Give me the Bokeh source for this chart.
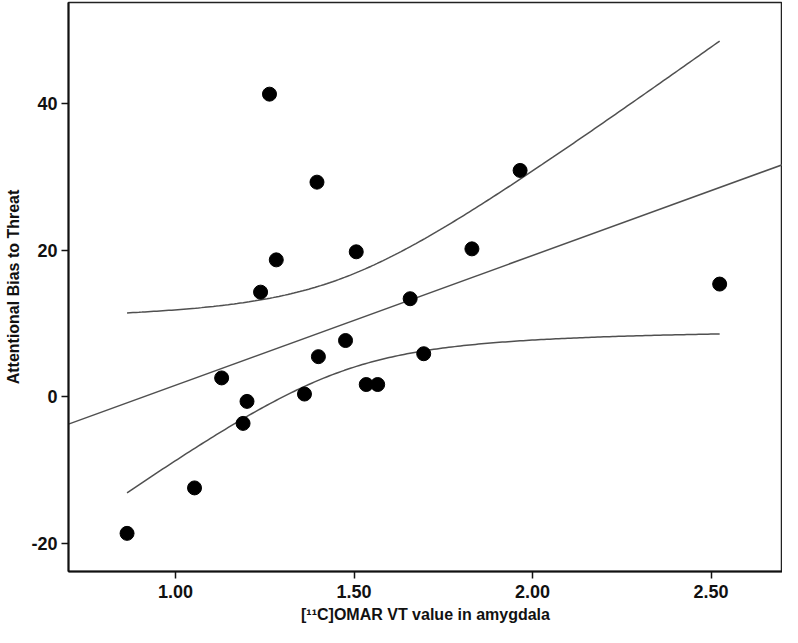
import numpy as np
from bokeh.plotting import figure
from bokeh.models import Range1d, FixedTicker, NumeralTickFormatter
from bokeh.embed import file_html
from bokeh.resources import INLINE

# Data
omar_vt = [0.864, 1.053, 1.129, 1.189, 1.200, 1.238, 1.263, 1.282, 1.361, 1.396,
           1.400, 1.476, 1.506, 1.534, 1.566, 1.657, 1.695, 1.830, 1.965, 2.524]
bias = [-18.6, -12.4, 2.6, -3.6, -0.6, 14.3, 41.3, 18.7, 0.4, 29.3,
        5.5, 7.7, 19.8, 1.7, 1.7, 13.4, 5.9, 20.2, 30.9, 15.4]
x_ticks = [1.0, 1.5, 2.0, 2.5]
y_ticks = [-20, 0, 20, 40]

x = np.array(omar_vt)
y = np.array(bias)
n = len(x)
slope, intercept = np.polyfit(x, y, 1)
resid = y - (slope * x + intercept)
s = np.sqrt(np.sum(resid ** 2) / (n - 2))
sxx = np.sum((x - x.mean()) ** 2)
t_crit = 2.101  # t(0.975, df=18)

x_lo, x_hi = 0.70, 2.70

p = figure(width=782, height=627, output_backend="svg", toolbar_location=None,
           x_range=Range1d(x_lo, x_hi), y_range=Range1d(-23.8, 53.8),
           min_border_left=68, min_border_right=0, min_border_top=2, min_border_bottom=56)

# fit line across the frame
fx = np.array([x_lo, x_hi])
p.line(fx, slope * fx + intercept, line_color="#505050", line_width=1.5)

# 95% CI of the mean over the data range
cx = np.linspace(x.min(), x.max(), 200)
half = t_crit * s * np.sqrt(1.0 / n + (cx - x.mean()) ** 2 / sxx)
cy = slope * cx + intercept
p.line(cx, cy + half, line_color="#505050", line_width=1.5)
p.line(cx, cy - half, line_color="#505050", line_width=1.5)

p.scatter(omar_vt, bias, size=14, fill_color="black", line_color="black")

p.xgrid.visible = False
p.ygrid.visible = False
p.outline_line_color = "#222222"
p.outline_line_width = 1.5
p.background_fill_color = "white"
p.border_fill_color = "white"

for ax in (p.xaxis[0], p.yaxis[0]):
    ax.axis_line_color = "#111111"
    ax.axis_line_width = 2
    ax.major_tick_line_color = "#111111"
    ax.major_tick_line_width = 1.5
    ax.major_tick_out = 7
    ax.major_tick_in = 0
    ax.minor_tick_line_color = None
    ax.major_label_text_font = "Liberation Sans"
    ax.major_label_text_font_style = "bold"
    ax.major_label_text_font_size = "18px"
    ax.major_label_text_color = "#111111"
    ax.axis_label_text_font = "Liberation Sans"
    ax.axis_label_text_font_style = "bold"
    ax.axis_label_text_font_size = "16px"
    ax.axis_label_text_color = "#111111"

p.xaxis[0].ticker = FixedTicker(ticks=x_ticks)
p.xaxis[0].formatter = NumeralTickFormatter(format="0.00")
p.yaxis[0].ticker = FixedTicker(ticks=y_ticks)
p.yaxis[0].formatter = NumeralTickFormatter(format="0")
p.xaxis[0].axis_label = "[¹¹C]OMAR VT value in amygdala"
p.yaxis[0].axis_label = "Attentional Bias to Threat"
p.xaxis[0].major_label_standoff = 6
p.xaxis[0].axis_label_standoff = 5
p.yaxis[0].major_label_standoff = 4
p.yaxis[0].axis_label_standoff = 6

open("out.html", "w").write(file_html(p, INLINE))
